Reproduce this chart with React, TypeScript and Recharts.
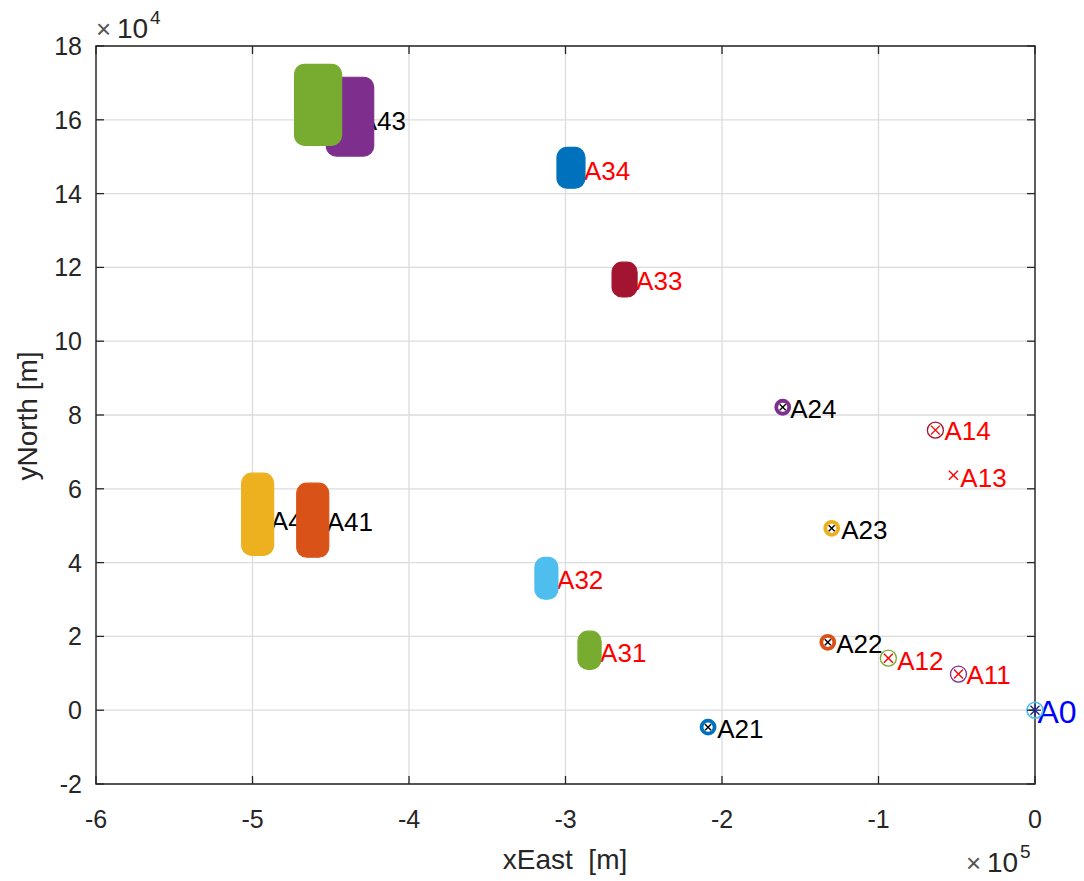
import { ScatterChart, Scatter, XAxis, YAxis, CartesianGrid, ReferenceArea, ReferenceDot } from 'recharts';

// axis ticks (metres)
const xTicks = [-600000, -500000, -400000, -300000, -200000, -100000, 0];
const yTicks = [-20000, 0, 20000, 40000, 60000, 80000, 100000, 120000, 140000, 160000, 180000];

// sampled position clouds: extent of the sample centres
const clusterIds = ['A43', 'A44', 'A42', 'A41', 'A34', 'A33', 'A32', 'A31'];
const clusterXMin = [-449000, -469300, -503100, -467900, -301600, -266400, -315700, -288200];
const clusterXMax = [-426400, -446900, -490300, -455100, -291400, -258100, -308700, -281100];
const clusterYMin = [151800, 154700, 43600, 43100, 143100, 113600, 31700, 12700];
const clusterYMax = [169900, 173400, 62600, 59900, 150900, 119800, 39800, 19800];

// fixed anchors
const anchorNames = ['A24', 'A14', 'A13', 'A23', 'A22', 'A12', 'A11', 'A21', 'A0'];
const anchorX = [-161200, -63650, -52100, -129900, -132400, -93700, -48900, -208900, 0];
const anchorY = [82100, 75900, 63700, 49300, 18400, 14100, 9800, -4600, 0];

// text annotations
const labelText = ['A43', 'A42', 'A41', 'A34', 'A33', 'A32', 'A31', 'A24', 'A14', 'A13', 'A23', 'A22', 'A12', 'A11', 'A21', 'A0'];
const labelX = [-431500, -488300, -452600, -288200, -254900, -305400, -277900, -156400, -57900, -47700, -123800, -127000, -88000, -43800, -203100, 1600];
const labelY = [159600, 51200, 50900, 146100, 116300, 35200, 15400, 81600, 75600, 62900, 48800, 17900, 13300, 9500, -5100, -500];

const FONT = '"Liberation Sans", Arial, Helvetica, sans-serif';
const AXIS = '#262626';
const PLOT = { left: 96, right: 1035, top: 46, bottom: 784 };

const clusterColor: Record<string, string> = {
  A43: '#7E2F8E', A44: '#77AC30', A42: '#EDB120', A41: '#D95319',
  A34: '#0072BD', A33: '#A2142F', A32: '#4DBEEE', A31: '#77AC30',
};

const anchorStyle: Record<string, { ring?: string; ringWidth: number; r: number; cross: string; star?: boolean }> = {
  A24: { ring: '#7E2F8E', ringWidth: 3.8, r: 6.5, cross: '#000' },
  A14: { ring: '#A2142F', ringWidth: 1.3, r: 8, cross: '#ff0000' },
  A13: { ringWidth: 0, r: 0, cross: '#ff0000' },
  A23: { ring: '#EDB120', ringWidth: 3.8, r: 6.5, cross: '#000' },
  A22: { ring: '#D95319', ringWidth: 3.8, r: 6.5, cross: '#000' },
  A12: { ring: '#77AC30', ringWidth: 1.3, r: 8, cross: '#ff0000' },
  A11: { ring: '#7E2F8E', ringWidth: 1.3, r: 8, cross: '#ff0000' },
  A21: { ring: '#0072BD', ringWidth: 3.8, r: 6.5, cross: '#000' },
  A0: { ring: '#4DBEEE', ringWidth: 1.6, r: 8, cross: '#1c2a8a', star: true },
};

const labelColor: Record<string, string> = {
  A43: '#000', A42: '#000', A41: '#000', A24: '#000', A23: '#000', A22: '#000', A21: '#000',
  A34: '#ff0000', A33: '#ff0000', A32: '#ff0000', A31: '#ff0000',
  A14: '#ff0000', A13: '#ff0000', A12: '#ff0000', A11: '#ff0000',
  A0: '#0000ff',
};

const anchors = anchorNames.map((name, i) => ({ name, x: anchorX[i], y: anchorY[i] }));

const XTick = (props: any) => {
  const { x, payload } = props;
  return (
    <g>
      <line x1={x} x2={x} y1={PLOT.bottom} y2={PLOT.bottom - 8} stroke={AXIS} strokeWidth={1.3} />
      <line x1={x} x2={x} y1={PLOT.top} y2={PLOT.top + 8} stroke={AXIS} strokeWidth={1.3} />
      <text x={x} y={819} textAnchor="middle" dominantBaseline="central" fontFamily={FONT} fontSize={25} fill={AXIS}>
        {payload.value / 100000}
      </text>
    </g>
  );
};

const YTick = (props: any) => {
  const { y, payload } = props;
  return (
    <g>
      <line x1={PLOT.left} x2={PLOT.left + 8} y1={y} y2={y} stroke={AXIS} strokeWidth={1.3} />
      <line x1={PLOT.right} x2={PLOT.right - 8} y1={y} y2={y} stroke={AXIS} strokeWidth={1.3} />
      <text x={82} y={y} textAnchor="end" dominantBaseline="central" fontFamily={FONT} fontSize={25} fill={AXIS}>
        {payload.value / 10000}
      </text>
    </g>
  );
};

const CloudShape = (color: string) => (props: any) => {
  const { x, y, width, height } = props;
  const pad = 6;
  return (
    <rect
      x={x - pad}
      y={y - pad}
      width={width + pad * 2}
      height={height + pad * 2}
      rx={10}
      fill={color}
      stroke={color}
      strokeWidth={1.2}
    />
  );
};

const AnchorShape = (props: any) => {
  const { cx, cy, payload } = props;
  const s = anchorStyle[payload.name];
  const c = s.ring && s.ringWidth > 2 ? 3 : 4.5;
  return (
    <g>
      {s.ring && <circle cx={cx} cy={cy} r={s.r} fill="none" stroke={s.ring} strokeWidth={s.ringWidth} />}
      <line x1={cx - c} y1={cy - c} x2={cx + c} y2={cy + c} stroke={s.cross} strokeWidth={1.4} />
      <line x1={cx - c} y1={cy + c} x2={cx + c} y2={cy - c} stroke={s.cross} strokeWidth={1.4} />
      {s.star && (
        <>
          <line x1={cx - 6} y1={cy} x2={cx + 6} y2={cy} stroke={s.cross} strokeWidth={1.4} />
          <line x1={cx} y1={cy - 6} x2={cx} y2={cy + 6} stroke={s.cross} strokeWidth={1.4} />
        </>
      )}
    </g>
  );
};

const TextShape = (text: string) => (props: any) => (
  <text
    x={props.cx}
    y={props.cy}
    dominantBaseline="central"
    fontFamily={FONT}
    fontSize={text === 'A0' ? 32 : 26}
    fill={labelColor[text]}
  >
    {text}
  </text>
);

export default function App() {
  return (
    <div style={{ position: 'absolute', left: 0, top: 0, width: 1084, height: 881, background: '#fff' }}>
      <ScatterChart width={1084} height={881} margin={{ top: 46, right: 49, bottom: 57, left: 36 }}>
        <CartesianGrid stroke="#dcdcdc" strokeWidth={1.3} />
        <XAxis
          type="number"
          dataKey="x"
          domain={[-600000, 0]}
          ticks={xTicks}
          tick={XTick}
          tickLine={false}
          axisLine={false}
          height={40}
          interval={0}
        />
        <YAxis
          type="number"
          dataKey="y"
          domain={[-20000, 180000]}
          ticks={yTicks}
          tick={YTick}
          tickLine={false}
          axisLine={false}
          width={60}
          interval={0}
        />
        {labelText.map((t, i) => (
          <ReferenceDot
            key={`lbl-${t}`}
            x={labelX[i]}
            y={labelY[i]}
            ifOverflow="visible"
            zIndex={50}
            shape={TextShape(t)}
          />
        ))}
        {clusterIds.map((id, i) => (
          <ReferenceArea
            key={`cl-${id}`}
            x1={clusterXMin[i]}
            x2={clusterXMax[i]}
            y1={clusterYMin[i]}
            y2={clusterYMax[i]}
            ifOverflow="visible"
            shape={CloudShape(clusterColor[id])}
          />
        ))}
        <Scatter data={anchors} shape={AnchorShape} isAnimationActive={false} />
        <ReferenceArea
          x1={-600000}
          x2={0}
          y1={-20000}
          y2={180000}
          ifOverflow="visible"
          fill="none"
          fillOpacity={0}
          stroke={AXIS}
          strokeWidth={1.4}
        />
      </ScatterChart>
      <svg
        width={1084}
        height={881}
        style={{ position: 'absolute', left: 0, top: 0, pointerEvents: 'none' }}
        fontFamily={FONT}
        fill={AXIS}
      >
        <text x={96} y={38} fontSize={26} fill="#555">×</text>
        <text x={117} y={38} fontSize={28}>10</text>
        <text x={150} y={24} fontSize={19}>4</text>
        <text x={966} y={872} fontSize={26} fill="#555">×</text>
        <text x={987} y={872} fontSize={28}>10</text>
        <text x={1020} y={858} fontSize={19}>5</text>
        <text
          x={27}
          y={416}
          fontSize={28}
          textAnchor="middle"
          dominantBaseline="central"
          transform="rotate(-90 27 416)"
        >
          yNorth [m]
        </text>
        <text x={565} y={859} fontSize={28} textAnchor="middle" dominantBaseline="central" style={{ whiteSpace: 'pre' }}>
          {'xEast  [m]'}
        </text>
      </svg>
    </div>
  );
}
